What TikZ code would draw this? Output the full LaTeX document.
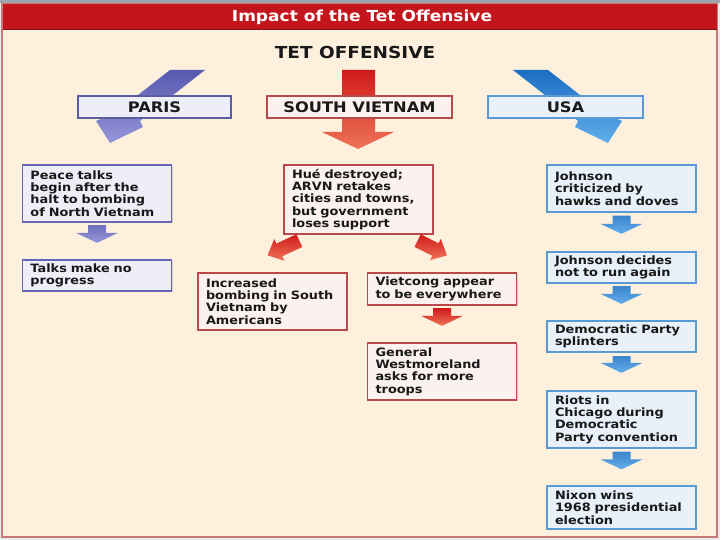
\documentclass[tikz,border=0pt]{standalone}
\usepackage{fontspec}
\setmainfont{DejaVu Sans}[FakeStretch=1.12]
\usetikzlibrary{calc,shadows}
\definecolor{pagebg}{HTML}{ECECEE}
\definecolor{topgrey}{HTML}{A0A5AC}
\definecolor{hdrred}{HTML}{C3161C}
\definecolor{cream}{HTML}{FDF1DE}
\definecolor{framec}{HTML}{C87878}
\definecolor{pbord}{HTML}{6666B2}
\definecolor{pfill}{HTML}{EEEEF8}
\definecolor{rbord}{HTML}{B84A4A}
\definecolor{rfill}{HTML}{FBF1EF}
\definecolor{bbord}{HTML}{5A9AD4}
\definecolor{bfill}{HTML}{E8F0F9}
\definecolor{parr}{HTML}{5858B0}
\definecolor{parrl}{HTML}{9696DA}
\definecolor{rarr}{HTML}{D01A1A}
\definecolor{rarrl}{HTML}{EE7458}
\definecolor{barr}{HTML}{1A6EC4}
\definecolor{barrl}{HTML}{62AEEA}
\newcommand\boxfont{\fontsize{11.5}{12.4}\selectfont\bfseries}
\newcommand\hdrfont{\fontsize{14.5}{15}\selectfont\bfseries}
% block arrow: #1 shade options, #2 start, #3 tip, #4 shaft half width, #5 head half width, #6 head length
\newcommand\blockarrow[6]{%
  \coordinate (bahead) at ($(#3)!#6!(#2)$);
  \shade[#1] ($(#2)!#4!90:(#3)$) -- ($(bahead)!#4!90:(#3)$) -- ($(bahead)!#5!90:(#3)$) -- (#3)
    -- ($(bahead)!#5!-90:(#3)$) -- ($(bahead)!#4!-90:(#3)$) -- ($(#2)!#4!-90:(#3)$) -- cycle;}
\begin{document}
\begin{tikzpicture}[x=1pt,y=-1pt,
  box/.style={draw, line width=1.3pt, minimum width=149pt, text width=133pt,
    inner xsep=7pt, inner ysep=2pt, align=left, font=\boxfont, text=black!90,
    drop shadow={shadow xshift=1.2pt, shadow yshift=-1.2pt, opacity=0.3}},
  pbox/.style={box, draw=pbord, fill=pfill},
  rbox/.style={box, draw=rbord, fill=rfill},
  bbox/.style={box, draw=bbord, fill=bfill},
  hbox/.style={draw, line width=1.3pt, minimum height=22pt, inner sep=0pt,
    font=\hdrfont, text=black!90,
    drop shadow={shadow xshift=1.2pt, shadow yshift=-1.2pt, opacity=0.3}},
  parrow/.style={top color=parr!85, bottom color=parrl},
  rarrow/.style={top color=rarr, bottom color=rarrl},
  barrow/.style={top color=barr!85, bottom color=barrl}]
\useasboundingbox (0,0) rectangle (720,540);
% frame
\fill[pagebg] (0,0) rectangle (720,540);
\fill[topgrey] (0,0) rectangle (720,3);
\draw[framec, fill=cream, line width=1.5pt] (1.8,3.5) rectangle (717.2,537.2);
\fill[hdrred] (2.5,4) rectangle (716.5,29);
\draw[hdrred!70!black, line width=0.6pt] (2.5,29) -- (716.5,29);
\node[text=white, font=\fontsize{15.2}{16}\selectfont\bfseries] (title) at (362,17) {Impact of the Tet Offensive};
\node[font=\fontsize{16.5}{17}\selectfont\bfseries, text=black!90] (tet) at (355,52) {TET OFFENSIVE};
% big arrows
\shade[top color=parr, bottom color=parrl] (170,70) -- (205,70) -- (140,121) -- (143,127) -- (110,143) -- (96,121) -- (115,113) -- cycle;
\shade[top color=rarr, bottom color=rarrl] (342,70) -- (375,70) -- (375,132) -- (394,132) -- (358,149) -- (322,132) -- (342,132) -- cycle;
\shade[top color=barr, bottom color=barrl] (548,70) -- (513,70) -- (578,121) -- (575,127) -- (608,143) -- (622,121) -- (603,113) -- cycle;
% headers
\node[hbox, draw=pbord!90!black, fill=pfill, minimum width=153pt] (paris) at (154.5,107) {PARIS};
\node[hbox, draw=rbord, fill=rfill, minimum width=185pt] (sv) at (359.5,107) {SOUTH VIETNAM};
\node[hbox, draw=bbord, fill=bfill, minimum width=155pt] (usa) at (565.5,107) {USA};
% Paris column
\node[pbox, minimum height=57pt] (peace) at (97,193.5) {Peace talks\\begin after the\\halt to bombing\\of North Vietnam};
\node[pbox, minimum height=31pt] (talks) at (97,275.5) {Talks make no\\progress};
% South Vietnam column
\node[rbox, minimum height=69pt] (hue) at (358.5,199.5) {Hué destroyed;\\ARVN retakes\\cities and towns,\\but government\\loses support};
\node[rbox, minimum height=57pt] (incr) at (272.5,301.5) {Increased\\bombing in South\\Vietnam by\\Americans};
\node[rbox, minimum height=32pt] (viet) at (442,289) {Vietcong appear\\to be everywhere};
\node[rbox, minimum height=57pt] (gen) at (442,371.5) {General\\Westmoreland\\asks for more\\troops};
% USA column
\node[bbox, minimum height=47pt] (john1) at (621.5,188.5) {Johnson\\criticized by\\hawks and doves};
\node[bbox, minimum height=31pt] (john2) at (621.5,267.5) {Johnson decides\\not to run again};
\node[bbox, minimum height=31pt] (dem) at (621.5,336.5) {Democratic Party\\splinters};
\node[bbox, minimum height=57pt] (riots) at (621.5,419.5) {Riots in\\Chicago during\\Democratic\\Party convention};
\node[bbox, minimum height=43pt] (nixon) at (621.5,507.5) {Nixon wins\\1968 presidential\\election};
% small arrows
\coordinate (a1s) at ($(peace.south)+(0,2.5)$);
\coordinate (a1e) at ($(talks.north)+(0,-16.5)$);
\blockarrow{parrow}{a1s}{a1e}{9pt}{21pt}{10pt}
\coordinate (a2s) at ($(viet.south)+(0,2.5)$);
\coordinate (a2e) at ($(gen.north)+(0,-16.5)$);
\blockarrow{rarrow}{a2s}{a2e}{9pt}{21pt}{10pt}
\coordinate (a3s) at ($(john1.south)+(0,3)$);
\coordinate (a3e) at ($(john2.north)+(0,-17.5)$);
\blockarrow{barrow}{a3s}{a3e}{9pt}{21pt}{10pt}
\coordinate (a4s) at ($(john2.south)+(0,2.5)$);
\coordinate (a4e) at ($(dem.north)+(0,-16.5)$);
\blockarrow{barrow}{a4s}{a4e}{9pt}{21pt}{10pt}
\coordinate (a5s) at ($(dem.south)+(0,3.5)$);
\coordinate (a5e) at ($(riots.north)+(0,-17.5)$);
\blockarrow{barrow}{a5s}{a5e}{9pt}{21pt}{10pt}
\coordinate (a6s) at ($(riots.south)+(0,3)$);
\coordinate (a6e) at ($(nixon.north)+(0,-16)$);
\blockarrow{barrow}{a6s}{a6e}{9pt}{21pt}{10pt}
% diagonal arrows from Hue box
\coordinate (h1s) at ($(hue.south west)+(16,6)$);
\coordinate (h1e) at ($(incr.north)+(-5,-17)$);
\blockarrow{rarrow}{h1s}{h1e}{7pt}{12pt}{13pt}
\coordinate (h2s) at ($(hue.south east)+(-16,6)$);
\coordinate (h2e) at ($(viet.north)+(5,-17)$);
\blockarrow{rarrow}{h2s}{h2e}{7pt}{12pt}{13pt}
\end{tikzpicture}
\end{document}
